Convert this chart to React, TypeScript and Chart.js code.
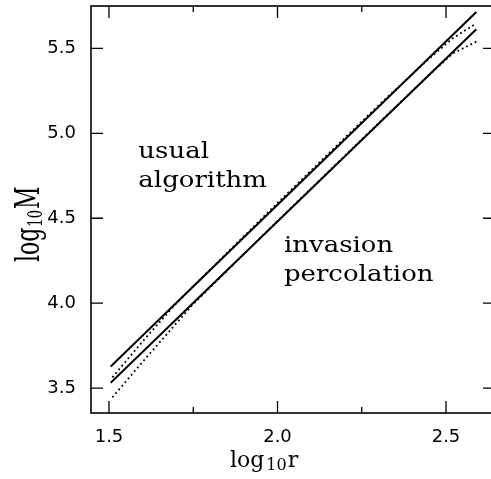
import { useEffect, useRef } from "react";
import { Chart, registerables } from "chart.js";

Chart.register(...registerables);

// ---- data ----
const solidX = [1.505, 2.59];
const usualSolidY = [3.627, 5.715];
const invasionSolidY = [3.531, 5.613];
const usualDotX = [1.51, 1.6, 1.7, 2.0, 2.3, 2.45, 2.52, 2.59];
const usualDotY = [3.563, 3.775, 4.0, 4.59, 5.165, 5.44, 5.56, 5.648];
const invasionDotX = [1.51, 1.6, 1.75, 2.0, 2.3, 2.45, 2.52, 2.59];
const invasionDotY = [3.445, 3.655, 3.995, 4.484, 5.06, 5.345, 5.47, 5.54];
const xMajorTicks = [1.5, 2.0, 2.5];
const xMinorTicks = [1.75, 2.25];
const yMajorTicks = [3.5, 4.0, 4.5, 5.0, 5.5];
const xLimits = [1.4466, 2.6454];
const yLimits = [3.353, 5.75];
const annotations = [
  { lines: ["usual", "algorithm"], x: 1.587, y: 4.855 },
  { lines: ["invasion", "percolation"], x: 2.019, y: 4.301 },
];

const pts = (xs: number[], ys: number[]) => xs.map((x, i) => ({ x, y: ys[i] }));

const SERIF = '"DejaVu Serif", serif';

function drawSub(
  ctx: CanvasRenderingContext2D,
  x: number,
  y: number,
  main: string,
  sub: string,
  tail: string,
  size: number,
  subSize: number,
  shift: number,
  gapA: number,
  gapB: number
) {
  ctx.font = `${size}px ${SERIF}`;
  ctx.fillText(main, x, y);
  let cx = x + ctx.measureText(main).width + gapA;
  ctx.font = `${subSize}px ${SERIF}`;
  ctx.fillText(sub, cx, y + shift);
  cx += ctx.measureText(sub).width + gapB;
  ctx.font = `${size}px ${SERIF}`;
  ctx.fillText(tail, cx, y);
}

const framePlugin = {
  id: "frame",
  afterDraw(chart: any) {
    const { ctx, chartArea: a, scales } = chart;
    const xs = scales.x;
    const ys = scales.y;
    ctx.save();
    ctx.strokeStyle = "#000";
    ctx.fillStyle = "#000";
    ctx.lineWidth = 1.6;
    ctx.strokeRect(a.left, a.top, a.right - a.left, a.bottom - a.top);
    ctx.lineWidth = 1.3;
    ctx.beginPath();
    const xt = (v: number, len: number) => {
      const p = xs.getPixelForValue(v);
      ctx.moveTo(p, a.bottom);
      ctx.lineTo(p, a.bottom - len);
      ctx.moveTo(p, a.top);
      ctx.lineTo(p, a.top + len);
    };
    xMajorTicks.forEach((v) => xt(v, 12));
    xMinorTicks.forEach((v) => xt(v, 6));
    yMajorTicks.forEach((v) => {
      const p = ys.getPixelForValue(v);
      ctx.moveTo(a.left, p);
      ctx.lineTo(a.left + 12, p);
      ctx.moveTo(a.right, p);
      ctx.lineTo(a.right - 12, p);
    });
    ctx.stroke();

    // annotations
    ctx.textAlign = "left";
    ctx.textBaseline = "alphabetic";
    annotations.forEach((an) => {
      const px = xs.getPixelForValue(an.x);
      const py = ys.getPixelForValue(an.y);
      an.lines.forEach((t, i) => {
        ctx.save();
        ctx.translate(px, py + i * 29);
        ctx.scale(1, 0.87);
        ctx.font = `26px ${SERIF}`;
        ctx.fillText(t, 0, 0);
        ctx.restore();
      });
    });

    // x title
    drawSub(ctx, a.left + 139, 467, "log", "10", "r", 22, 16, 3, 2, 1);

    // y title (rotated, taller glyphs)
    ctx.save();
    ctx.translate(39, a.top + 256);
    ctx.rotate(-Math.PI / 2);
    ctx.scale(1, 1.55);
    drawSub(ctx, 0, 0, "log", "10", "M", 22, 13, 2, 1, 1);
    ctx.restore();

    ctx.restore();
  },
};

export default function App() {
  const ref = useRef<HTMLCanvasElement>(null);
  useEffect(() => {
    if (!ref.current) return;
    const solid = { borderColor: "#000", borderWidth: 2, pointRadius: 0, showLine: true, fill: false };
    const dotted = { borderColor: "#000", borderWidth: 1.8, borderDash: [1.8, 3], pointRadius: 0, showLine: true, fill: false };
    const chart = new Chart(ref.current, {
      type: "scatter",
      data: {
        datasets: [
          { ...solid, data: pts(solidX, usualSolidY) },
          { ...dotted, data: pts(usualDotX, usualDotY) },
          { ...solid, data: pts(solidX, invasionSolidY) },
          { ...dotted, data: pts(invasionDotX, invasionDotY) },
        ],
      },
      options: {
        responsive: false,
        animation: false,
        events: [],
        layout: { padding: { top: 6, right: 5, left: 0, bottom: 0 } },
        plugins: { legend: { display: false }, tooltip: { enabled: false } },
        scales: {
          x: {
            type: "linear",
            min: xLimits[0],
            max: xLimits[1],
            afterFit: (s: any) => {
              s.height = 66;
              s.paddingLeft = 0;
              s.paddingRight = 0;
            },
            afterBuildTicks: (s: any) => {
              s.ticks = xMajorTicks.map((value) => ({ value }));
            },
            grid: { display: false, drawTicks: false },
            border: { display: false },
            ticks: {
              color: "#000",
              padding: 14,
              maxRotation: 0,
              autoSkip: false,
              font: { family: '"DejaVu Sans", sans-serif', size: 18 },
              callback: (v: any) => Number(v).toFixed(1),
            },
          },
          y: {
            type: "linear",
            min: yLimits[0],
            max: yLimits[1],
            afterFit: (s: any) => {
              s.width = 91;
              s.paddingTop = 0;
              s.paddingBottom = 0;
            },
            afterBuildTicks: (s: any) => {
              s.ticks = yMajorTicks.map((value) => ({ value }));
            },
            grid: { display: false, drawTicks: false },
            border: { display: false },
            ticks: {
              color: "#000",
              padding: 15,
              autoSkip: false,
              font: { family: '"DejaVu Sans", sans-serif', size: 18 },
              callback: (v: any) => Number(v).toFixed(1),
            },
          },
        },
      },
      plugins: [framePlugin],
    });
    return () => chart.destroy();
  }, []);
  return (
    <div style={{ position: "fixed", left: 0, top: 0, width: 491, height: 479, overflow: "hidden", background: "#fff" }}>
      <canvas ref={ref} width={500} height={479} style={{ width: 500, height: 479, display: "block" }} />
    </div>
  );
}
